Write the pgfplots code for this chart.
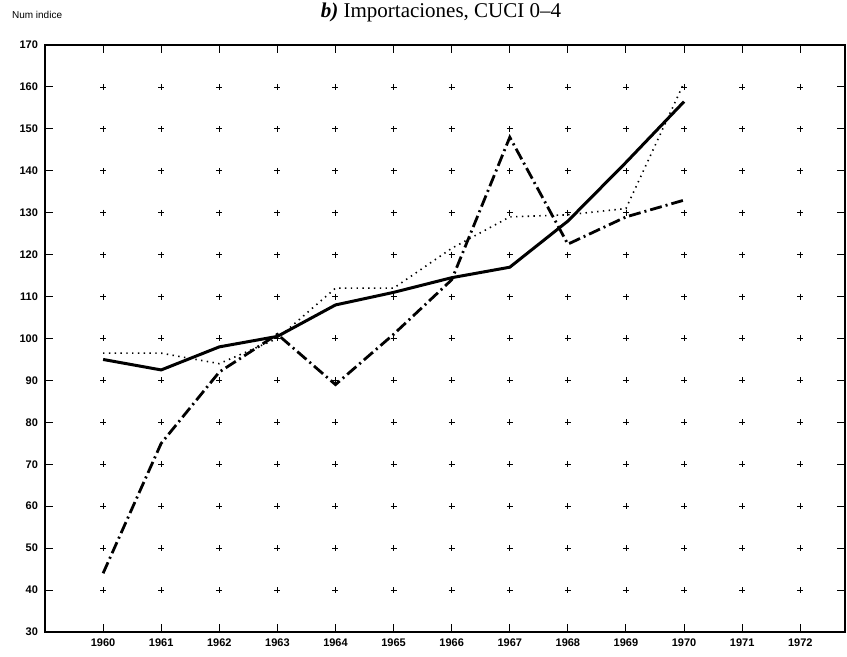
\documentclass[border=0pt]{standalone}
\usepackage{fontspec}
\setmainfont{Liberation Serif}
\setsansfont{Liberation Sans}
\usepackage{pgfplots}
\pgfplotsset{compat=1.18}
\begin{document}
\begin{tikzpicture}
\useasboundingbox (-22.5pt,-12.5pt) rectangle (401pt,316pt);
\begin{axis}[
 at={(0,0)}, anchor=south west,
 scale only axis, width=400pt, height=293.5pt,
 xmin=1959, xmax=1972.77, ymin=30, ymax=170,
 xtick={1960,1961,1962,1963,1964,1965,1966,1967,1968,1969,1970,1971,1972},
 xticklabels={1960,1961,1962,1963,1964,1965,1966,1967,1968,1969,1970,1971,1972},
 ytick={30,40,...,170},
 /pgf/number format/assume math mode=true,
 tick label style={font=\sffamily\bfseries\fontsize{5.5}{6}\selectfont},
 axis line style={line width=1.1pt},
 tick align=inside, major tick length=4pt,
 tick style={black, line width=0.5pt},
 clip=false,
]
\pgfplotsinvokeforeach{1960,1961,1962,1963,1964,1965,1966,1967,1968,1969,1970,1971,1972}{
 \addplot[only marks, mark=+, mark size=1.5pt, black, line width=0.4pt, forget plot]
 coordinates {(#1,40)(#1,50)(#1,60)(#1,70)(#1,80)(#1,90)(#1,100)(#1,110)(#1,120)(#1,130)(#1,140)(#1,150)(#1,160)};
}
% solid
\addplot[black, line width=1.5pt] coordinates {
(1960,95)(1961,92.5)(1962,98)(1963,100.5)(1964,108)(1965,111)(1966,114.5)(1967,117)(1968,128)(1969,142)(1970,156.5)};
% dotted
\addplot[black, line width=0.8pt, dash pattern=on 0.7pt off 2.2pt] coordinates {
(1960,96.5)(1961,96.5)(1962,94)(1963,100)(1964,112)(1965,112)(1966,121.5)(1967,129)(1968,129.5)(1969,131)(1970,161)};
% dash-dot
\addplot[black, line width=1.4pt, dash pattern=on 6pt off 2pt on 1pt off 2pt] coordinates {
(1960,44)(1961,75)(1962,92)(1963,101)(1964,89)(1965,101)(1966,114)(1967,148)(1968,122.5)(1969,129)(1970,133)};
\node[anchor=center, font=\fontsize{10.5}{12}\selectfont] at (rel axis cs:0.5,1) [xshift=-2pt, yshift=16.5pt] {\textbf{\textit{b)}} Importaciones, CUCI 0--4};
\node[anchor=west, font=\sffamily\fontsize{5}{6}\selectfont] at (rel axis cs:0,1) [xshift=-20pt, yshift=15pt] {Num indice};
\end{axis}
\end{tikzpicture}
\end{document}
